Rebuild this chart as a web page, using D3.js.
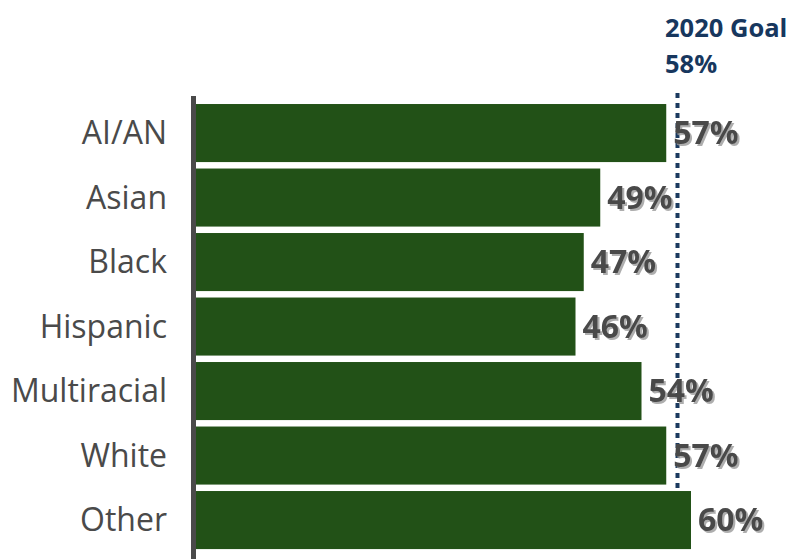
<!DOCTYPE html>
<html>
<head>
<meta charset="utf-8">
<script src="https://cdn.jsdelivr.net/npm/d3@7"></script>
<style>
  html, body { margin: 0; padding: 0; background: #fff; }
  svg { display: block; }
</style>
</head>
<body>
<script>
// Share of each group reaching the measure, with the 2020 goal line
const categories = ["AI/AN", "Asian", "Black", "Hispanic", "Multiracial", "White", "Other"];
const values = [57, 49, 47, 46, 54, 57, 60];
const goalValue = 58;
const goalLabel = ["2020 Goal", "58%"];

const W = 792, H = 559;
const svg = d3.select("body").append("svg")
  .attr("width", W).attr("height", H);

// soft shadow used behind the value labels
const shadow = svg.append("defs").append("filter")
  .attr("id", "valShadow")
  .attr("x", "-10%").attr("y", "-20%")
  .attr("width", "130%").attr("height", "150%");
shadow.append("feDropShadow")
  .attr("dx", 2).attr("dy", 2)
  .attr("stdDeviation", 0.6)
  .attr("flood-color", "#9a9a9a")
  .attr("flood-opacity", 0.8);

const x = d3.scaleLinear().domain([0, 60]).range([196, 691]);
const y = d3.scaleBand().domain(categories)
  .range([100.8, 552.3]).paddingInner(0.1).paddingOuter(0.05);

// goal reference line (behind the bars)
svg.append("line")
  .attr("x1", x(goalValue) + 3).attr("x2", x(goalValue) + 3)
  .attr("y1", 93).attr("y2", 552)
  .attr("stroke", "#1b3a5f").attr("stroke-width", 4)
  .attr("stroke-dasharray", "5,5");

// bars
svg.append("g").selectAll("rect")
  .data(values)
  .join("rect")
  .attr("x", x(0))
  .attr("y", (d, i) => y(categories[i]))
  .attr("width", d => x(d) - x(0))
  .attr("height", y.bandwidth())
  .attr("fill", "#225117");

// vertical axis line
svg.append("line")
  .attr("x1", 193.5).attr("x2", 193.5)
  .attr("y1", 96).attr("y2", 559)
  .attr("stroke", "#4a4a4a").attr("stroke-width", 5);

// category labels
svg.append("g").selectAll("text")
  .data(categories)
  .join("text")
  .attr("x", 167)
  .attr("y", d => y(d) + y.bandwidth() / 2 + 11)
  .attr("text-anchor", "end")
  .attr("font-family", "'Open Sans', sans-serif")
  .attr("font-size", 32)
  .attr("fill", "#4a4a4a")
  .text(d => d);

// value labels
svg.append("g").selectAll("text")
  .data(values)
  .join("text")
  .attr("x", d => x(d) + 7)
  .attr("y", (d, i) => y(categories[i]) + y.bandwidth() / 2 + 11)
  .attr("font-family", "'Open Sans', sans-serif")
  .attr("font-weight", 700)
  .attr("font-size", 32)
  .attr("fill", "#4a4a4a")
  .attr("filter", "url(#valShadow)")
  .text(d => d + "%");

// goal label
svg.append("g").selectAll("text")
  .data(goalLabel)
  .join("text")
  .attr("x", 665)
  .attr("y", (d, i) => 37 + i * 36)
  .attr("font-family", "'Open Sans', sans-serif")
  .attr("font-weight", 700)
  .attr("font-size", 25.5)
  .attr("fill", "#17375e")
  .text(d => d);
</script>
</body>
</html>
